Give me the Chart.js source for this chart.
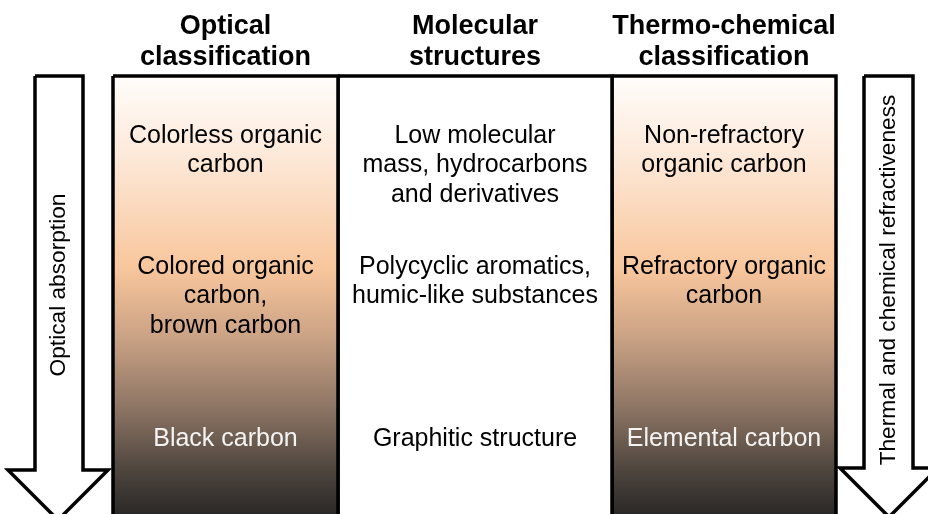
<!DOCTYPE html>
<html>
<head>
<meta charset="utf-8">
<script src="https://cdn.jsdelivr.net/npm/chart.js@4.4.1/dist/chart.umd.min.js"></script>
<style>
  body { margin: 0; background: #fff; }
  #chart { display: block; }
</style>
</head>
<body>
<canvas id="chart" width="928" height="514"></canvas>
<script>
// diagram units = pixels of the 928x514 picture, y grows downwards
const columnEdges = [113, 338, 612, 836];
const boxTop = 76;
const boxBottom = 530;

const headings = [
    ['Optical', 'classification'],
    ['Molecular', 'structures'],
    ['Thermo-chemical', 'classification']
];
const headingRows = [27, 58];

// text inside each column; every band starts at the same first line
const rowTops = [136, 267, 439];
const opticalLabels = [['Colorless organic', 'carbon'], ['Colored organic', 'carbon,', 'brown carbon'], ['Black carbon']];
const molecularLabels = [['Low molecular', 'mass, hydrocarbons', 'and derivatives'], ['Polycyclic aromatics,', 'humic-like substances'], ['Graphitic structure']];
const thermoLabels = [['Non-refractory', 'organic carbon'], ['Refractory organic', 'carbon'], ['Elemental carbon']];
const columnLabels = [opticalLabels, molecularLabels, thermoLabels];
const lineGap = 29.5;

// arrows: shaft left/right, shoulder y, wing left/right, tip x
const leftArrow = { shaft: [35, 83], top: 76, shoulder: 470, wings: [8, 108], tip: 58 };
const rightArrow = { shaft: [864, 913], top: 76, shoulder: 468, wings: [840, 938], tip: 889 };
const arrowTexts = ['Optical absorption', 'Thermal and chemical refractiveness'];
const arrowTextCenters = [285, 280];

// colour ramp of the shaded columns, from top to bottom
const rampStops = [0, 0.18, 0.44, 0.6, 0.76, 0.9, 1];
const rampColors = ['#fffdfb', '#fde9d9', '#f8c69c', '#c9a184', '#8c7463', '#4e453e', '#2b2928'];

const FONT = '"Liberation Sans", Arial, sans-serif';

function rect(x0, x1, y0, y1) {
    return [{x: x0, y: y0}, {x: x1, y: y0}, {x: x1, y: y1}, {x: x0, y: y1}, {x: x0, y: y0}];
}

function arrow(a) {
    return [
        {x: a.shaft[0], y: a.top}, {x: a.shaft[1], y: a.top},
        {x: a.shaft[1], y: a.shoulder}, {x: a.wings[1], y: a.shoulder},
        {x: a.tip, y: a.shoulder + (a.wings[1] - a.tip)},
        {x: a.wings[0], y: a.shoulder}, {x: a.shaft[0], y: a.shoulder},
        {x: a.shaft[0], y: a.top}
    ];
}

function ramp(context) {
    const chart = context.chart;
    if (!chart.chartArea) return rampColors[2];
    const y = chart.scales.y;
    const g = chart.ctx.createLinearGradient(0, y.getPixelForValue(boxTop), 0, y.getPixelForValue(514));
    rampStops.forEach((s, i) => g.addColorStop(s, rampColors[i]));
    return g;
}

function shape(label, data, fillColor, width) {
    return {
        label: label,
        data: data,
        fill: 'shape',
        backgroundColor: fillColor,
        borderColor: '#000',
        borderWidth: width,
        borderJoinStyle: 'miter',
        pointRadius: 0,
        tension: 0
    };
}

const textPlugin = {
    id: 'diagramText',
    afterDatasetsDraw(chart) {
        const {ctx, scales: {x, y}} = chart;
        ctx.save();
        ctx.textAlign = 'center';
        ctx.textBaseline = 'middle';

        // column headings
        ctx.fillStyle = '#000';
        ctx.font = 'bold 27px ' + FONT;
        headings.forEach((lines, c) => {
            const cx = x.getPixelForValue((columnEdges[c] + columnEdges[c + 1]) / 2);
            lines.forEach((t, i) => ctx.fillText(t, cx, y.getPixelForValue(headingRows[i])));
        });

        // text inside the columns
        ctx.font = '25px ' + FONT;
        columnLabels.forEach((rows, c) => {
            const cx = x.getPixelForValue((columnEdges[c] + columnEdges[c + 1]) / 2);
            rows.forEach((lines, r) => {
                const dark = r === 2 && c !== 1;
                ctx.fillStyle = dark ? '#f4f4f4' : '#000';
                lines.forEach((t, i) => ctx.fillText(t, cx, y.getPixelForValue(rowTops[r] + i * lineGap)));
            });
        });

        // rotated text in the arrows
        ctx.fillStyle = '#000';
        ctx.font = '22.7px ' + FONT;
        [leftArrow, rightArrow].forEach((a, i) => {
            ctx.save();
            ctx.translate(x.getPixelForValue((a.shaft[0] + a.shaft[1]) / 2), y.getPixelForValue(arrowTextCenters[i]));
            ctx.rotate(-Math.PI / 2);
            ctx.fillText(arrowTexts[i], 0, 0);
            ctx.restore();
        });
        ctx.restore();
    }
};

new Chart(document.getElementById('chart'), {
    type: 'line',
    data: {
        datasets: [
            shape('optical', rect(columnEdges[0], columnEdges[1], boxTop, boxBottom), ramp, 3.5),
            shape('molecular', rect(columnEdges[1], columnEdges[2], boxTop, boxBottom), '#fff', 3.5),
            shape('thermo', rect(columnEdges[2], columnEdges[3], boxTop, boxBottom), ramp, 3.5),
            shape('left arrow', arrow(leftArrow), '#fff', 3.5),
            shape('right arrow', arrow(rightArrow), '#fff', 3.5)
        ]
    },
    options: {
        responsive: false,
        animation: false,
        events: [],
        layout: { padding: 0 },
        scales: {
            x: { type: 'linear', min: 0, max: 928, display: false },
            y: { type: 'linear', min: 0, max: 514, reverse: true, display: false }
        },
        plugins: {
            legend: { display: false },
            tooltip: { enabled: false },
            title: { display: false }
        }
    },
    plugins: [textPlugin]
});
</script>
</body>
</html>
